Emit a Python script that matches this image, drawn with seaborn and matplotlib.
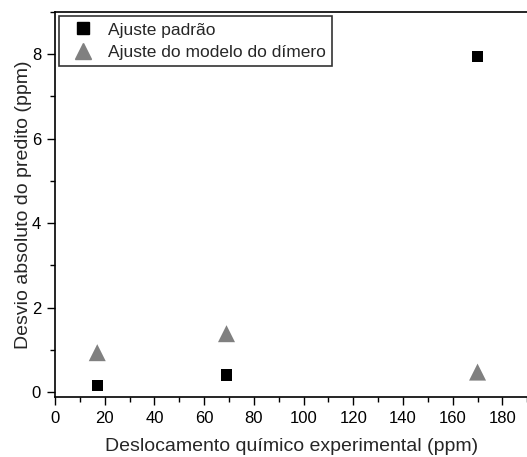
import matplotlib
matplotlib.use("Agg")
import matplotlib.pyplot as plt
import seaborn as sns
import pandas as pd
from matplotlib.ticker import MultipleLocator
from matplotlib.lines import Line2D

sns.set_style("ticks")
plt.rcParams['font.family'] = ['Liberation Sans', 'DejaVu Sans']

shift_exp = [17, 69, 170]
desvio_padrao = [0.15, 0.40, 7.95]
desvio_dimero = [0.93, 1.38, 0.47]
series_names = ["Ajuste padrão", "Ajuste do modelo do dímero"]

df = pd.DataFrame({
    "x": shift_exp * 2,
    "y": desvio_padrao + desvio_dimero,
    "serie": [series_names[0]] * 3 + [series_names[1]] * 3,
})

fig = plt.figure(figsize=(5.27, 4.57), dpi=100)
ax = fig.add_axes([55/527, 60/457, 474/527, 385/457])

sns.scatterplot(data=df, x="x", y="y", hue="serie", style="serie",
                palette={series_names[0]: "#000000", series_names[1]: "#808080"},
                markers={series_names[0]: "s", series_names[1]: "^"},
                linewidth=0, ax=ax, legend=False, zorder=3)
ax.collections[0].set_sizes([68 if s == series_names[0] else 150 for s in df["serie"]])

ax.set_xlim(0, 190.7)
ax.set_ylim(-0.12, 9.0)
ax.xaxis.set_major_locator(MultipleLocator(20))
ax.xaxis.set_minor_locator(MultipleLocator(10))
ax.yaxis.set_major_locator(MultipleLocator(2))
ax.yaxis.set_minor_locator(MultipleLocator(1))
ax.tick_params(which='major', direction='out', length=6, width=1, labelsize=12,
               color='black', labelcolor='black', pad=4)
ax.tick_params(which='minor', direction='out', length=3.5, width=1, color='black')
ax.tick_params(top=False, right=False)
for side in ['left', 'bottom', 'top']:
    ax.spines[side].set_color('black')
    ax.spines[side].set_linewidth(1.2)
ax.spines['right'].set_visible(False)

ax.set_xlabel("Deslocamento químico experimental (ppm)", fontsize=14, labelpad=9)
ax.set_ylabel("Desvio absoluto do predito (ppm)", fontsize=14, labelpad=0)

handles = [Line2D([], [], marker='s', color='#000000', linestyle='none', markersize=8.5),
           Line2D([], [], marker='^', color='#808080', linestyle='none', markersize=11)]
leg = ax.legend(handles, series_names, loc='upper left', fontsize=12.5, frameon=True,
                fancybox=False, edgecolor='black', borderaxespad=0.25,
                handletextpad=0.45, borderpad=0.35, labelspacing=0.4, handlelength=2.0)
leg.get_frame().set_linewidth(1.2)

fig.savefig("out.png", dpi=100)
